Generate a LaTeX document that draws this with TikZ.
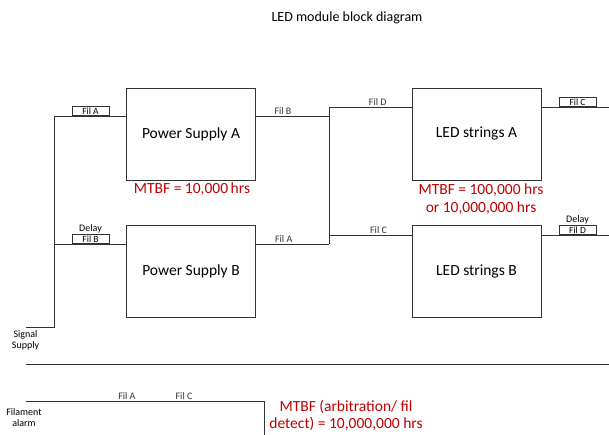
\documentclass[tikz,border=0pt]{standalone}
\usepackage{fontspec}
\setmainfont{Carlito}
\usepackage{xcolor}
\usetikzlibrary{positioning}
\definecolor{mtbfred}{RGB}{192,0,0}

\begin{document}
\begin{tikzpicture}[
  x=1pt,y=-1pt,
  block/.style={draw=black!80,line width=0.9pt,minimum width=129pt,minimum height=92pt,inner sep=0pt,font=\fontsize{15.5}{18}\selectfont},
  fil/.style={draw=black!80,line width=0.8pt,minimum width=37pt,minimum height=9pt,inner sep=0pt,anchor=south,font=\fontsize{9.5}{9}\selectfont},
  wire/.style={black!80,line width=0.9pt},
  lab/.style={font=\fontsize{10}{11}\selectfont,inner sep=1pt},
  mtbf/.style={text=mtbfred,align=center,font=\fontsize{15.5}{18}\selectfont}
]
\useasboundingbox (0,0) rectangle (609,435);

\node[font=\fontsize{14}{16}\selectfont] (title) at (347,18) {LED module block diagram};

% blocks
\node[block] (psA) at (191,134) {Power Supply A};
\node[block] (psB) at (191,271.5) {Power Supply B};
\node[block] (ledA) at (476.5,134) {LED strings A};
\node[block] (ledB) at (476.5,271.5) {LED strings B};

\node[mtbf] (mtbfPS) at (192,189) {MTBF = 10,000\,hrs};
\node[mtbf] (mtbfLED) at (481,199) {MTBF = 100,000 hrs\\ or 10,000,000 hrs};

% supply side
\coordinate (sig) at (26,327);
\coordinate (busA) at (54,116);
\coordinate (busB) at (54,244);
\node[lab,align=center] (sigtxt) at (25.5,340) {Signal\\Supply};
\draw[wire] (sig) -| (busA) -- (psA.west |- busA);
\draw[wire] (busB) -- (psB.west |- busB);
\node[fil] (filA) at (90.5,116) {Fil A};
\node[fil] (filB) at (90.5,244) {Fil B};
\node[lab,above=0pt of filB] (delayB) {Delay};

% middle links
\coordinate (jA) at (329,116);
\coordinate (jB) at (329,244);
\coordinate (jT) at (329,107);
\coordinate (jC) at (329,235);
\draw[wire] (psA.east |- jA) -- node[lab,above,pos=0.37] {Fil B} (jA);
\draw[wire] (psB.east |- jB) -- node[lab,above,pos=0.38] {Fil A} (jB);
\draw[wire] (jT) -- (jB);
\draw[wire] (jT) -- node[lab,above,pos=0.59] {Fil D} (ledA.west |- jT);
\draw[wire] (jC) -- node[lab,above,pos=0.6] {Fil C} (ledB.west |- jC);

% outputs
\coordinate (outA) at (609,107);
\coordinate (outB) at (609,235);
\draw[wire] (ledA.east |- outA) -- (outA);
\draw[wire] (ledB.east |- outB) -- (outB);
\node[fil] (filC) at (577.5,107) {Fil C};
\node[fil] (filD) at (577.5,235) {Fil D};
\node[lab,above=0pt of filD] (delayD) {Delay};

% alarm
\coordinate (sepL) at (26,364);
\coordinate (sepR) at (609,364);
\draw[wire] (sepL) -- (sepR);
\coordinate (alL) at (26,401);
\coordinate (alC) at (264,401);
\coordinate (alD) at (264,435);
\draw[wire] (alL) -- node[lab,above,pos=0.424] {Fil A} node[lab,above,pos=0.664] {Fil C} (alC) -- (alD);
\node[lab,align=center] (altxt) at (24,418) {Filament\\alarm};
\node[mtbf,font=\fontsize{15.5}{17}\selectfont] (mtbfAl) at (346,415) {MTBF (arbitration/ fil\\ detect) = 10,000,000 hrs};
\end{tikzpicture}
\end{document}
